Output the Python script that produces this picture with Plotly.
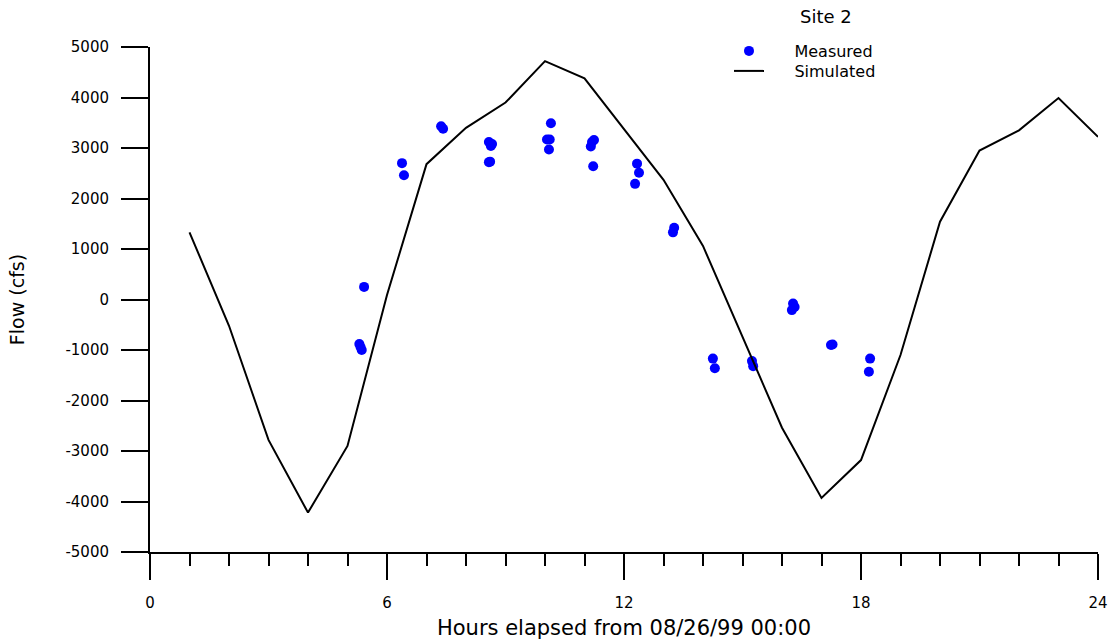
import plotly.graph_objects as go

# Simulated flow, hourly
sim_hours = list(range(1, 25))
sim_flow = [1330, -520, -2780, -4220, -2900, 90, 2680, 3400, 3900, 4720, 4380, 3380,
            2370, 1060, -750, -2540, -3930, -3180, -1100, 1540, 2950, 3350, 3990, 3220]

# Measured flow
meas_hours = [5.42, 5.30, 5.33, 5.36, 6.38, 6.43, 7.37, 7.42,
              8.58, 8.63, 8.66, 8.58, 8.61,
              10.15, 10.05, 10.12, 10.10,
              11.24, 11.19, 11.16, 11.22,
              12.33, 12.38, 12.28,
              13.27, 13.24,
              14.25, 14.30, 15.24, 15.27,
              16.28, 16.25, 16.32,
              17.24, 17.28,
              18.23, 18.20]
meas_flow = [250, -880, -940, -1000, 2700, 2460, 3430, 3380,
             3120, 3040, 3080, 2720, 2730,
             3490, 3170, 3170, 2970,
             3160, 3120, 3030, 2640,
             2690, 2510, 2290,
             1420, 1330,
             -1170, -1360, -1220, -1320,
             -80, -210, -150,
             -900, -890,
             -1170, -1430]

x_ticks = [0, 6, 12, 18, 24]
y_ticks = list(range(-5000, 5001, 1000))
y_ticktext = [str(v) for v in y_ticks]  # plain hyphen minus

FONT = "DejaVu Sans, Verdana, sans-serif"
PAD = "\u00a0" * 5

fig = go.Figure()
fig.add_trace(go.Scatter(x=meas_hours, y=meas_flow, mode="markers", name=PAD + "Measured",
                         marker=dict(color="#0000FF", size=10, line=dict(width=0)),
                         legend="legend", showlegend=True))
fig.add_trace(go.Scatter(x=sim_hours, y=sim_flow, mode="lines", name=PAD + "Simulated",
                         line=dict(color="black", width=2), legend="legend2",
                         showlegend=True))

W, H = 1114, 644
ML, MR, MT, MB = 150, 16, 47, 92
PW, PH = W - ML - MR, H - MT - MB


def px_x(p):
    return (p - ML) / PW


def px_y(p):
    return 1 + (MT - p) / PH


leg_common = dict(xanchor="left", yanchor="middle", font=dict(size=16),
                  bgcolor="rgba(0,0,0,0)", borderwidth=0, visible=True)

fig.update_layout(
    width=W, height=H,
    showlegend=True,
    margin=dict(l=ML, r=MR, t=MT, b=MB, autoexpand=False),
    plot_bgcolor="white", paper_bgcolor="white",
    font=dict(family=FONT, color="black", size=15),
    legend=dict(x=px_x(729), y=px_y(51), **leg_common),
    legend2=dict(x=px_x(729), y=px_y(71), **leg_common),
    annotations=[dict(text="Site 2", x=px_x(826), y=px_y(17),
                      xref="paper", yref="paper", xanchor="center", yanchor="middle",
                      showarrow=False, font=dict(size=18))],
    xaxis=dict(range=[0, 24], tickvals=x_ticks, ticks="outside", ticklen=26,
               tickwidth=2, tickcolor="black", showline=True, linewidth=2,
               linecolor="black", showgrid=False, zeroline=False, automargin=False,
               ticklabelstandoff=10, tickfont=dict(size=15),
               minor=dict(dtick=1, tick0=0, ticks="outside", ticklen=12,
                          tickwidth=2, tickcolor="black", showgrid=False),
               title=dict(text="Hours elapsed from 08/26/99 00:00",
                          font=dict(size=21), standoff=9)),
    yaxis=dict(range=[-5000, 5000], tickvals=y_ticks, ticktext=y_ticktext,
               ticks="outside", ticklen=27,
               tickwidth=2, tickcolor="black", showline=True, linewidth=2,
               linecolor="black", showgrid=False, zeroline=False, automargin=False,
               ticklabelstandoff=9, tickfont=dict(size=15),
               title=dict(text="Flow (cfs)", font=dict(size=19), standoff=36)),
)
fig.write_html("out.html")
